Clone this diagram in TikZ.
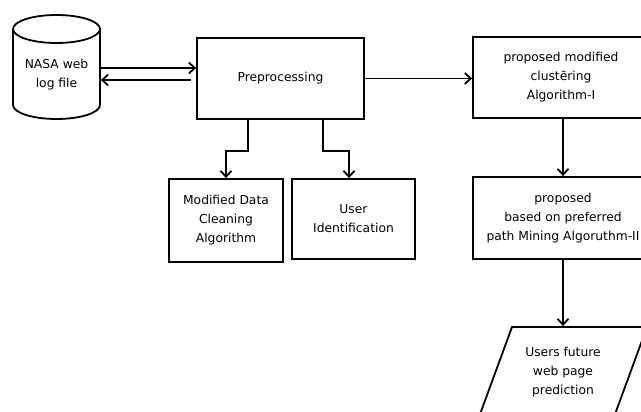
\documentclass[tikz,border=0pt]{standalone}
\usepackage{fontspec}
\setmainfont{DejaVu Sans}
\usetikzlibrary{arrows.meta}
\begin{document}
\begin{tikzpicture}[x=1pt,y=-1pt,line width=1.8pt,
    box/.style={draw,align=center,inner sep=0pt,font=\fontsize{12.3}{19}\selectfont},
    lbl/.style={align=center,inner sep=0pt,font=\fontsize{12.3}{19}\selectfont},
    arr/.style={-{Straight Barb[length=6pt,width=11pt]}}]
      \useasboundingbox (0,0) rectangle (641,412);
      % log file (cylinder drawn by hand)
      \node[lbl,minimum width=87pt,minimum height=90pt] (log) at (56.5,75) {NASA web\\log file};
      \draw (56.5,29) ellipse[x radius=43.5,y radius=14];
      \draw (13,29) -- (13,105) arc[start angle=180,end angle=0,x radius=43.5,y radius=14] -- (100,29);
      \node[box,minimum width=167pt,minimum height=81pt] (prep) at (280.5,78.5) {Preprocessing};
      \node[box,minimum width=114pt,minimum height=83pt] (clean) at (226,220.5) {Modified Data\\Cleaning\\Algorithm};
      \node[box,minimum width=123pt,minimum height=80pt] (user) at (353.5,219) {User\\Identification};
      \node[box,minimum width=176pt,minimum height=81pt] (clus) at (561,77.5) {proposed modified\\clustēring\\Algorithm-I};
      \node[box,minimum width=180pt,minimum height=82pt] (mine) at (563,218) {proposed\\based on preferred\\path Mining Algoruthm-II};
      % output (parallelogram)
      \node[lbl,minimum width=130pt,minimum height=90pt] (pred) at (563,372) {Users future\\web page\\prediction};
      \draw (512,327) -- (647,327) -- (614,417) -- (479,417) -- cycle;
      % connectors
      \draw[arr] ([yshift=7pt]log.east) -- ([yshift=10.5pt]prep.west);
      \draw[arr,shorten <=5pt] ([yshift=-1.5pt]prep.west) -- ([yshift=-5pt]log.east);
      \draw[arr] (prep.east) -- (prep.east -| clus.west);
      \draw[arr] ([xshift=-32.5pt]prep.south) -- ++(0,31) -| (clean.north);
      \draw[arr] ([xshift=42.5pt]prep.south) -- ++(0,31) -| ([xshift=-4.5pt]user.north);
      \draw[arr] (mine.north |- clus.south) -- (mine.north);
      \draw[arr] (mine.south) -- (pred.north);
    \end{tikzpicture}
\end{document}
